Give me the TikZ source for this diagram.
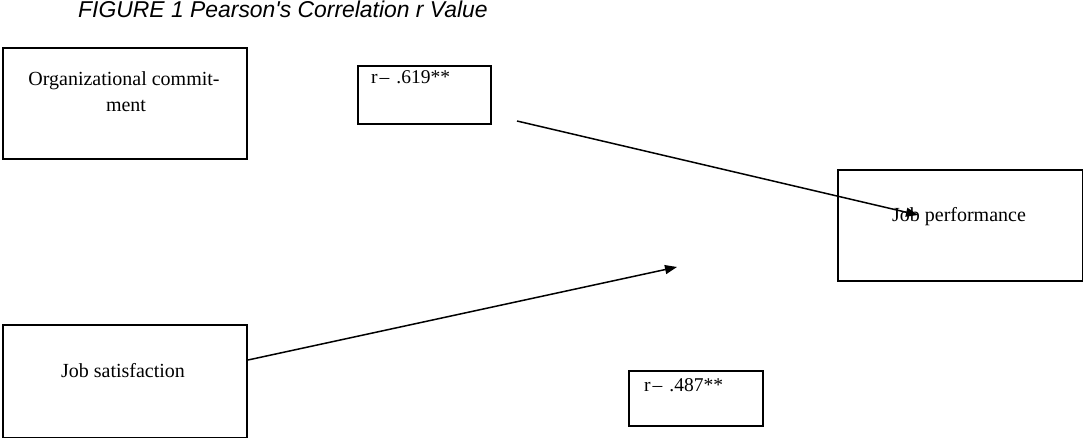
\documentclass[tikz,border=0pt]{standalone}
\usepackage{fontspec}
\setmainfont{Liberation Serif}
\newfontfamily\titlefont{Liberation Sans}
\usetikzlibrary{arrows.meta}
\begin{document}
\begin{tikzpicture}[x=1pt,y=-1pt,
  box/.style={draw,line width=2pt,inner sep=0pt,anchor=north west},
  lbl/.style={inner sep=0pt,anchor=base,font=\fontsize{20}{23}\selectfont},
  rlbl/.style={inner sep=0pt,anchor=base west,font=\fontsize{19.5}{21}\selectfont},
  conn/.style={line width=1.5pt,-{Triangle[length=12pt,width=9pt]}}]
\useasboundingbox (0,0) rectangle (1083,438);
% title
\node[inner sep=0pt,anchor=base west,font=\titlefont\itshape\fontsize{22.9}{24}\selectfont] (title) at (78,18) {FIGURE 1 Pearson's Correlation r Value};
% boxes
\node[box,minimum width=244pt,minimum height=111pt] (org) at (2,47) {};
\node[box,minimum width=133pt,minimum height=58pt] (r1) at (357,65) {};
\node[box,minimum width=245pt,minimum height=111pt] (perf) at (837,169) {};
\node[box,minimum width=244pt,minimum height=113pt] (sat) at (2,324) {};
\node[box,minimum width=134pt,minimum height=55pt] (r2) at (628,370) {};
% texts
\node[lbl] (orgt1) at (124,86) {Organizational commit-};
\node[lbl] (orgt2) at (126,112) {ment};
\node[rlbl] (r1t) at (371,84) {r\kern2pt–\kern7pt.619**};
\node[lbl] (perft) at (959,222) {Job performance};
\node[lbl] (satt) at (123,377) {Job satisfaction};
\node[rlbl] (r2t) at (644,391) {r\kern2pt–\kern7pt.487**};
% connectors
\coordinate (a1s) at (517,121);
\coordinate (a1e) at (918,215);
\coordinate (a2e) at (677,267);
\draw[conn] (a1s) -- (a1e);
\draw[conn] (sat.east |- 0,360) -- (a2e);
\end{tikzpicture}
\end{document}
